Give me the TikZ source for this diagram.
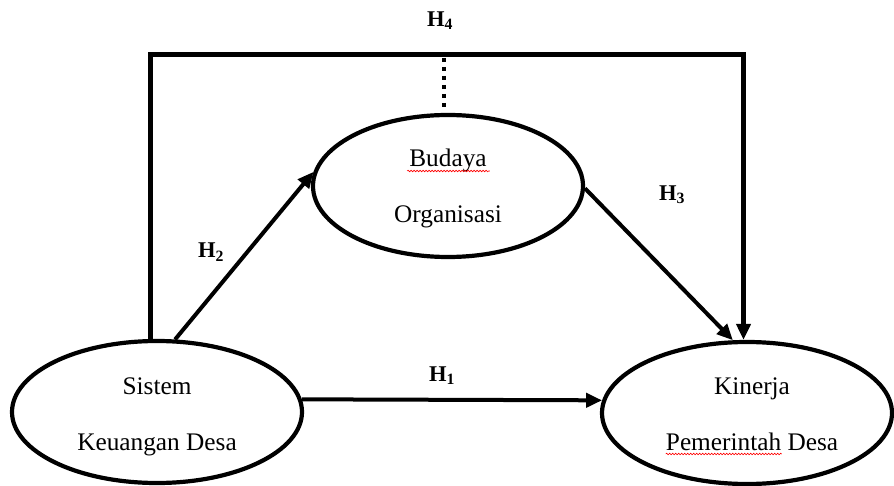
\documentclass[tikz,border=0pt]{standalone}
\usepackage{fontspec}
\setmainfont{Liberation Serif}
\usetikzlibrary{arrows.meta,shapes.geometric,decorations.pathmorphing}
\begin{document}
\begin{tikzpicture}[x=1pt,y=-1pt,
  var/.style={draw,ellipse,line width=4.2pt,inner sep=0pt},
  lbl/.style={font=\fontsize{25.3}{30}\selectfont,anchor=base,inner sep=0pt},
  hyp/.style={font=\fontsize{22.5}{26}\selectfont\bfseries,inner sep=0pt},
  tipstyle/.style={-{Triangle[length=16pt,width=14pt]}},
  arr/.style={line width=4pt,tipstyle},
  frame/.style={line width=4.5pt},
  dots/.style={line width=4pt,dash pattern=on 4pt off 5pt},
  squig/.style={red,line width=0.6pt,decorate,decoration={snake,amplitude=0.8pt,segment length=3pt}}]
\useasboundingbox (0,0) rectangle (894,486);

% variables
\node[var,minimum width=290pt,minimum height=142pt] (sk) at (157,412) {};
\node[var,minimum width=270pt,minimum height=142pt] (bo) at (448,186) {};
\node[var,minimum width=290pt,minimum height=142pt] (kp) at (747,413) {};

% texts
\node[lbl] (t1) at (157,394) {Sistem};
\node[lbl] (t2) at (157,450) {Keuangan Desa};
\node[lbl] (t3) at (448,167) {Budaya};
\node[lbl] (t4) at (448,223) {Organisasi};
\node[lbl] (t5) at (752,394) {Kinerja};
\node[lbl] (t6) at (752,450) {Pemerintah Desa};

% spell-check marks
\draw[squig] ([xshift=-2pt,yshift=-4pt]t3.base west) -- ([xshift=3pt,yshift=-4pt]t3.base east);
\draw[squig] ([yshift=-4pt]t6.base west) -- ([xshift=116pt,yshift=-4pt]t6.base west);

% connectors
\draw[arr] (sk.5) -- (kp.175);
\draw[arr] (sk.76) -- (bo.174);
\draw[arr] (bo.-1) -- (kp.101);

\coordinate (tl) at (150.5,54.5);
\coordinate (tr) at (743.5,54.5);
\draw[frame,tipstyle] (tl |- sk.north) -- (tl) -- (tr) -- (tr |- kp.north);

\coordinate (d1) at (443.5,58);
\coordinate (d2) at (443.5,108);
\draw[dots] (d1) -- (d2);

% labels
\node[hyp] (h1) at (442,376) {H\textsubscript{1}};
\node[hyp] (h2) at (211,252) {H\textsubscript{2}};
\node[hyp] (h3) at (672,195) {H\textsubscript{3}};
\node[hyp] (h4) at (440,21) {H\textsubscript{4}};
\end{tikzpicture}
\end{document}
